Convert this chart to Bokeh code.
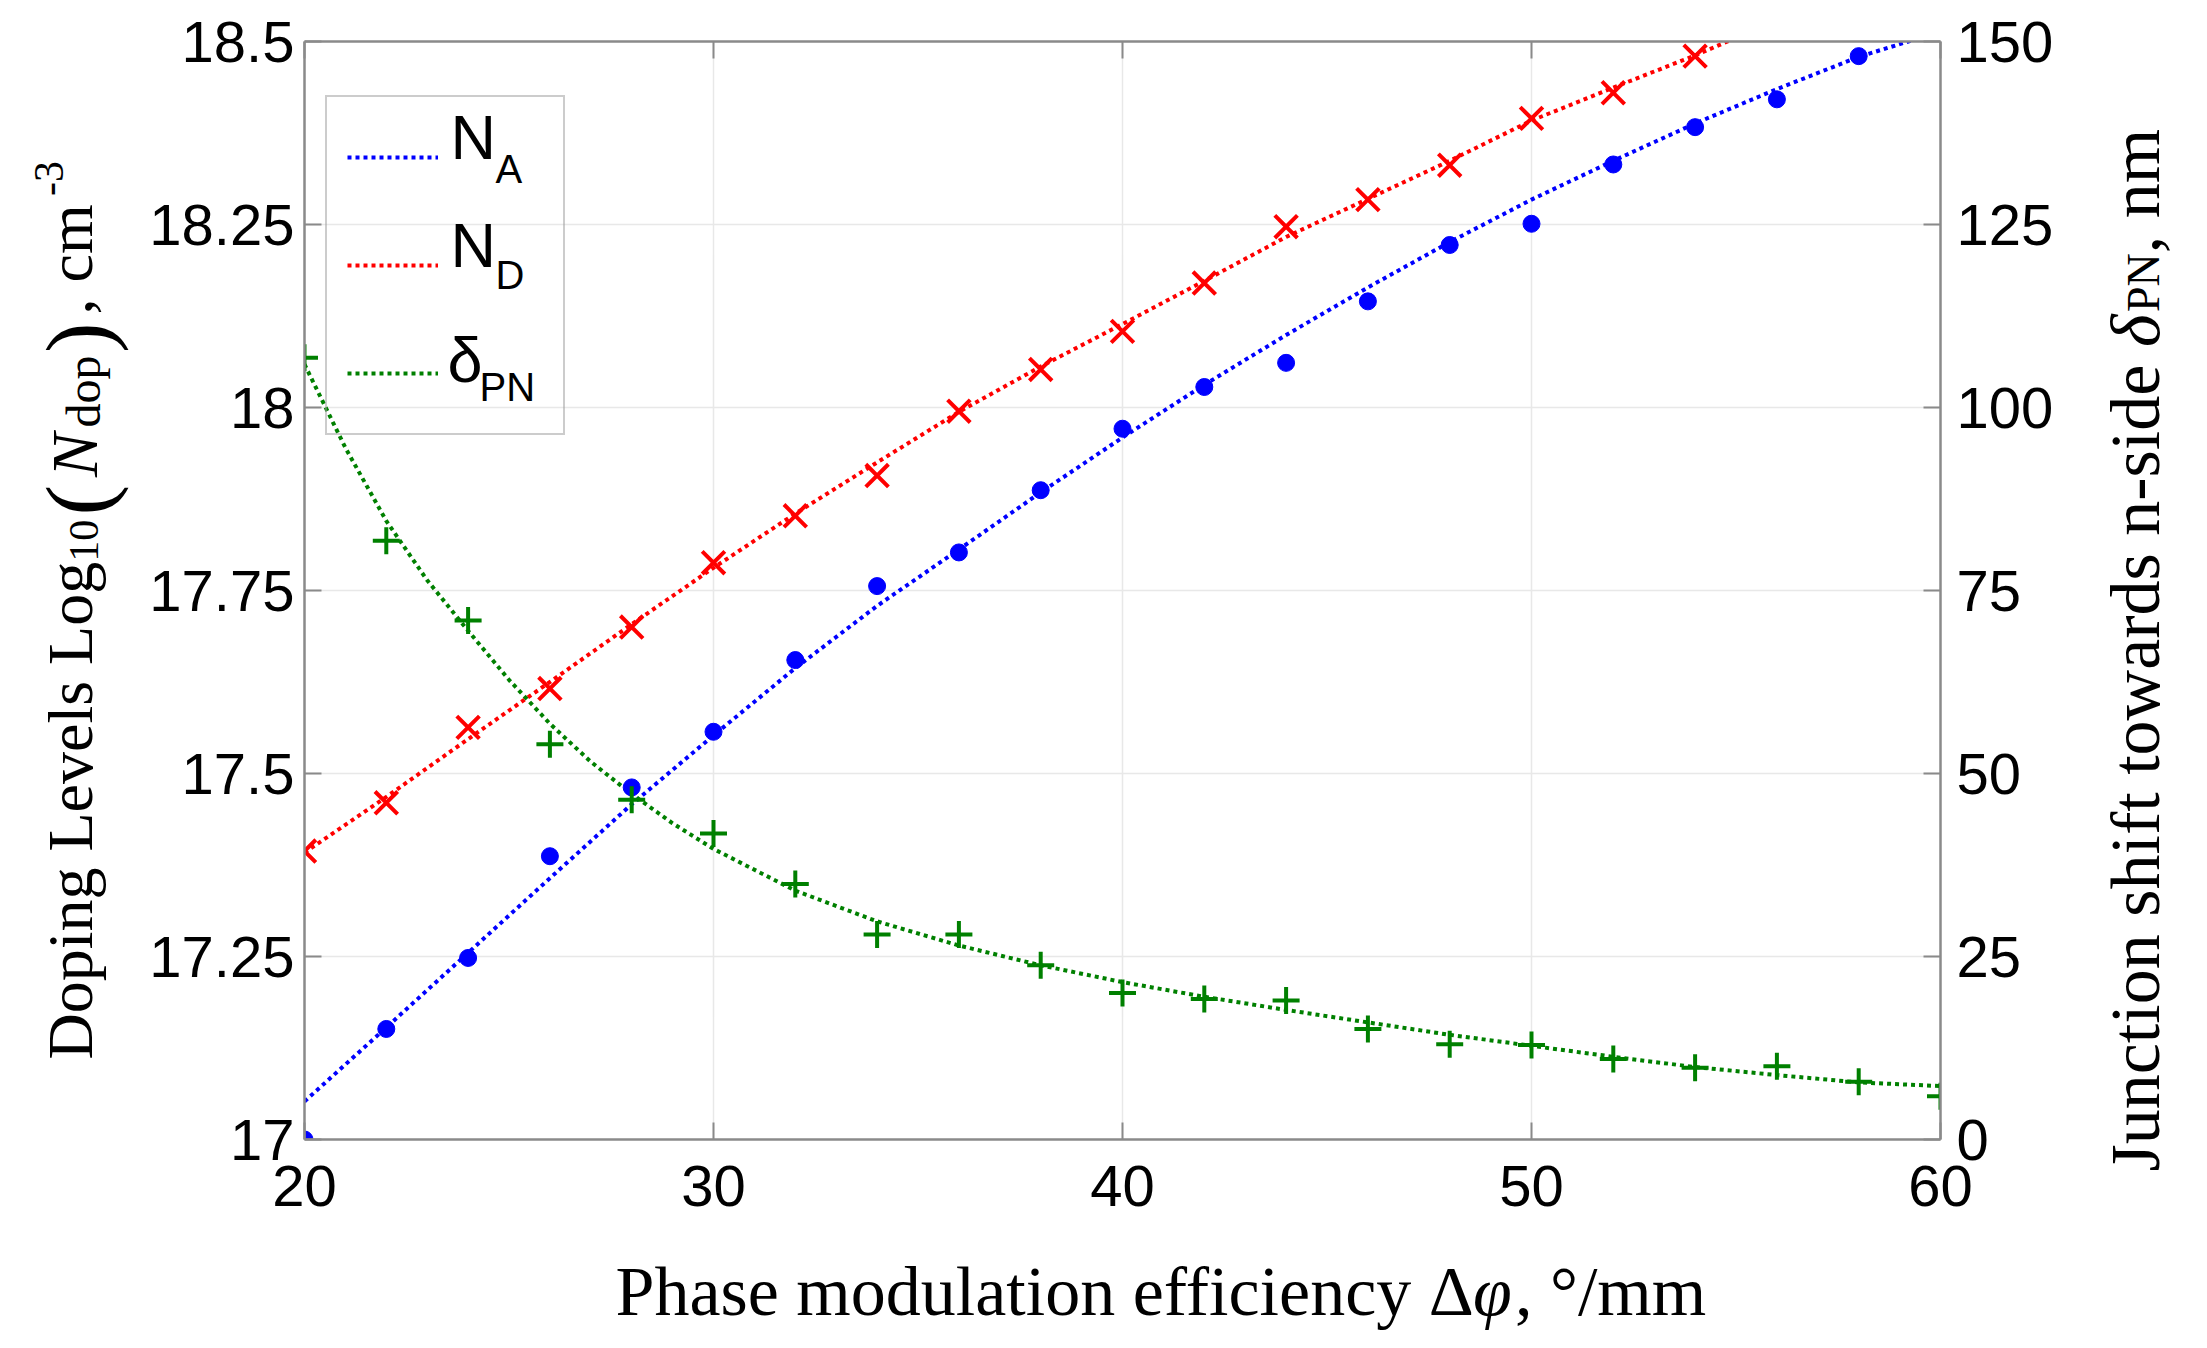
from bokeh.plotting import figure
from bokeh.layouts import row, column
from bokeh.models import Range1d, LinearAxis, FixedTicker, Label, Legend, LegendItem
from bokeh.core.properties import value
from bokeh.embed import file_html
from bokeh.resources import INLINE

# ---- data ----
# phase modulation efficiency (deg/mm) of the simulated points
x_na = [20, 22, 24, 26, 28, 30, 32, 34, 36, 38, 40, 42, 44, 46, 48, 50, 52, 54, 56, 58]
na_pts = [17.00, 17.151, 17.248, 17.387, 17.481, 17.557, 17.655, 17.756, 17.802, 17.887,
          17.971, 18.028, 18.061, 18.145, 18.222, 18.251, 18.332, 18.383, 18.421, 18.480]

x_nd = [20, 22, 24, 26, 28, 30, 32, 34, 36, 38, 40, 42, 44, 46, 48, 50, 52, 54]
nd_pts = [17.394, 17.460, 17.563, 17.616, 17.700, 17.788, 17.852, 17.907, 17.995, 18.052,
          18.104, 18.170, 18.247, 18.284, 18.331, 18.395, 18.430, 18.480]

x_dpn = [20, 22, 24, 26, 28, 30, 32, 34, 36, 38, 40, 42, 44, 46, 48, 50, 52, 54, 56, 58, 60]
dpn_pts = [106.8, 81.8, 70.9, 54.0, 46.4, 41.8, 34.9, 28.0, 28.0, 23.8, 20.0, 19.2, 19.0,
           15.1, 13.0, 12.9, 11.0, 9.8, 10.0, 7.9, 5.9]

# fitted curves (dotted lines)
na_fit_x = [20, 22, 24, 26, 28, 30, 32, 34, 36, 38, 40, 42, 44, 46, 48, 50, 52, 54, 56, 58, 59.5]
na_fit = [17.052, 17.153, 17.255, 17.357, 17.458, 17.552, 17.644, 17.729, 17.806, 17.884,
          17.959, 18.031, 18.099, 18.164, 18.226, 18.284, 18.337, 18.388, 18.435, 18.479, 18.505]

nd_fit_x = [20, 22, 24, 26, 28, 30, 32, 34, 36, 38, 40, 42, 44, 46, 48, 50, 52, 54, 55]
nd_fit = [17.392, 17.468, 17.547, 17.625, 17.704, 17.781, 17.855, 17.925, 17.994, 18.056,
          18.114, 18.173, 18.233, 18.285, 18.337, 18.392, 18.437, 18.481, 18.505]

dpn_fit_x = [20, 21, 22, 23, 24, 25, 26, 27, 28, 29, 30, 32, 34, 36, 38, 40, 42, 44, 46, 48,
             50, 52, 54, 56, 58, 60]
dpn_fit = [105.9, 94.5, 84.5, 76.4, 69.5, 62.8, 56.8, 51.6, 47.2, 43.2, 39.7, 34.0, 29.8,
           26.5, 23.8, 21.5, 19.5, 17.7, 16.0, 14.3, 12.8, 11.3, 9.9, 8.8, 7.8, 7.3]

# ticks
x_ticks = [20, 30, 40, 50, 60]
x_tick_labels = ["20", "30", "40", "50", "60"]
y_ticks = [17, 17.25, 17.5, 17.75, 18, 18.25, 18.5]
y_tick_labels = ["17", "17.25", "17.5", "17.75", "18", "18.25", "18.5"]
y2_ticks = [0, 25, 50, 75, 100, 125, 150]
y2_tick_labels = ["0", "25", "50", "75", "100", "125", "150"]

BLUE = "#0000ff"
RED = "#ff0000"
GREEN = "#008000"
AXIS_GREY = "#8a8a8a"
SERIF = "Liberation Serif"
SANS = "Liberation Sans"

# main plot: frame sits at x 312..1948, y 49..1147 of the page
p = figure(width=1947, height=1232, output_backend="svg", toolbar_location=None,
           x_range=Range1d(20, 60), y_range=Range1d(17, 18.5),
           min_border_left=164, min_border_right=147, min_border_top=41, min_border_bottom=93)
p.extra_y_ranges = {"shift": Range1d(0, 150)}
p.outline_line_color = None
p.background_fill_color = None
p.border_fill_color = None

p.add_layout(LinearAxis(y_range_name="shift"), "right")
p.add_layout(LinearAxis(), "above")


def style_axis(ax, ticks, labels):
    ax.ticker = FixedTicker(ticks=ticks)
    ax.major_label_overrides = dict(zip(ticks, labels))
    ax.major_tick_in = 17
    ax.major_tick_out = 0
    ax.minor_tick_in = 0
    ax.minor_tick_out = 0
    ax.axis_line_color = AXIS_GREY
    ax.axis_line_width = 2.5
    ax.major_tick_line_color = AXIS_GREY
    ax.major_tick_line_width = 2
    ax.major_label_text_font = SANS
    ax.major_label_text_font_size = "58px"
    ax.major_label_text_color = "black"


style_axis(p.below[0], x_ticks, x_tick_labels)
p.below[0].major_label_standoff = 26
style_axis(p.left[0], y_ticks, y_tick_labels)
p.left[0].major_label_standoff = 10
style_axis(p.right[0], y2_ticks, y2_tick_labels)
p.right[0].major_label_standoff = 16
style_axis(p.above[0], x_ticks, ["" for t in x_ticks])
p.above[0].major_label_text_font_size = "0px"
p.above[0].major_label_standoff = 0

p.xgrid.ticker = FixedTicker(ticks=x_ticks)
p.ygrid.ticker = FixedTicker(ticks=y_ticks)
for g in (p.xgrid[0], p.ygrid[0]):
    g.grid_line_color = "#e8e8e8"
    g.grid_line_width = 1.5

# fitted curves
r_na = p.line(na_fit_x, na_fit, line_color=BLUE, line_width=4, line_dash="4 4")
r_nd = p.line(nd_fit_x, nd_fit, line_color=RED, line_width=4, line_dash="4 4")
r_dpn = p.line(dpn_fit_x, dpn_fit, line_color=GREEN, line_width=4, line_dash="4 4",
               y_range_name="shift")

# simulated points
p.scatter(x_na, na_pts, marker="circle", size=17, fill_color=BLUE, line_color=BLUE)
p.scatter(x_nd, nd_pts, marker="x", size=32, line_color=RED, line_width=4)
p.scatter(x_dpn, dpn_pts, marker="cross", size=27, line_color=GREEN, line_width=4,
          y_range_name="shift")

# legend box with line samples only; the sub-scripted names are placed on top
legend = Legend(items=[LegendItem(label=value(" "), renderers=[r_na]),
                       LegendItem(label=value(" "), renderers=[r_nd]),
                       LegendItem(label=value(" "), renderers=[r_dpn])],
                location=(21, 704), glyph_width=91, glyph_height=80,
                label_width=95, label_height=80, label_standoff=10,
                padding=20, spacing=28, margin=0,
                label_text_font_size="10px",
                border_line_color="#9a9a9a", border_line_width=2.5,
                background_fill_color="white", background_fill_alpha=0)
p.add_layout(legend)


def lab(f, text, x, y, size, font=SANS, style="normal", angle=0, units="screen"):
    f.add_layout(Label(x=x, y=y, x_units=units, y_units=units, text=text,
                       text_font=font, text_font_size=f"{size}px", text_font_style=style,
                       text_color="black", text_align="left", text_baseline="alphabetic",
                       angle=angle, angle_units="deg"))


# legend names
lab(p, "N", 146, 1003, 63)
lab(p, "A", 191, 971, 40)
lab(p, "N", 146, 895, 63)
lab(p, "D", 191, 865, 40)
lab(p, "\u03b4", 143, 780, 63)
lab(p, "PN", 175, 753, 40)


def blank(w, h, x_range, left=0, right=0):
    f = figure(width=w, height=h, x_range=x_range, y_range=Range1d(0, h),
               output_backend="svg", toolbar_location=None, min_border=0,
               min_border_left=left, min_border_right=right,
               x_axis_type=None, y_axis_type=None)
    f.outline_line_color = None
    f.background_fill_color = None
    f.border_fill_color = None
    return f


def run(f, pieces, x0, y0, vertical):
    # pieces: text, font size, advance in em, baseline shift (px, + = down), style
    pos = 0
    for text, size, em, shift, style in pieces:
        if vertical:
            lab(f, text, x0 + shift, y0 + pos, size, SERIF, style, 90, "data")
        else:
            lab(f, text, x0 + pos, y0 - shift, size, SERIF, style, 0, "data")
        pos += em * size


# x axis title (x in page pixels, same frame as the main plot)
xt = blank(1947, 100, Range1d(312, 1948), left=164, right=147)
run(xt, [("Phase modulation efficiency \u0394", 70, 12.249, 0, "normal"),
         ("\u03c6", 70, 0.6, 0, "italic"),
         (", \u00b0/mm", 70, 2.734, 0, "normal")], 623, 41, False)

# left axis title
lt = blank(140, 1332, Range1d(0, 140))
run(lt, [("Doping Levels Log", 64, 7.777, 0, "normal"),
         ("10", 42, 1.1, 13, "normal"),
         ("(", 92, 0.42, 7, "normal"),
         ("N", 66, 0.75, 4, "italic"),
         ("dop", 48, 1.55, 13, "normal"),
         (")", 92, 0.42, 7, "normal"),
         (", cm", 64, 1.85, 0, "normal"),
         ("-3", 42, 0.85, -22, "normal")], 70, 273, True)

# right axis title
rt = blank(104, 1332, Range1d(0, 104))
run(rt, [("Junction shift towards n-side ", 70, 11.777, 0, "normal"),
         ("\u03b4", 70, 0.5, 0, "italic"),
         ("PN", 46, 1.278, 8, "normal"),
         (", nm", 70, 1.778, 0, "normal")], 48, 161, True)

page = row(lt, column(p, xt), rt)
open("out.html", "w").write(file_html(page, INLINE))
